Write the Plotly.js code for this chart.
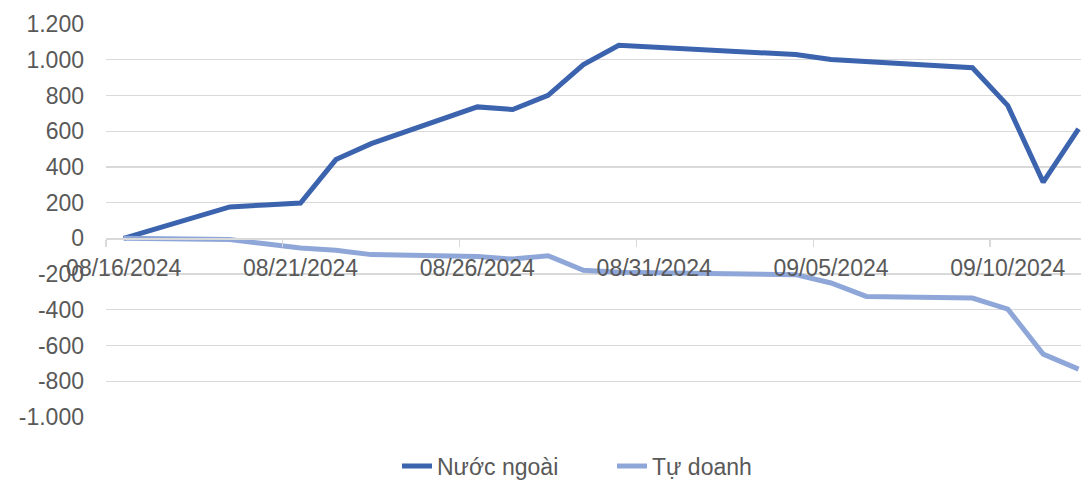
<!DOCTYPE html>
<html>
<head>
<meta charset="utf-8">
<script src="https://cdn.plot.ly/plotly-3.0.1.min.js"></script>
<style>html,body{margin:0;padding:0;background:#fff;}#chart{width:1081px;height:480px;}</style>
</head>
<body>
<div id="chart"></div>
<script>
const dates = ['2024-08-16','2024-08-19','2024-08-20','2024-08-21','2024-08-22','2024-08-23',
  '2024-08-26','2024-08-27','2024-08-28','2024-08-29','2024-08-30',
  '2024-09-04','2024-09-05','2024-09-06','2024-09-09','2024-09-10','2024-09-11','2024-09-12'];
const nuocNgoai = [0,176,187,198,441,530,736,721,801,973,1081,1029,1001,990,955,743,315,613];
const tuDoanh = [0,-7,-30,-54,-67,-91,-101,-116,-97,-179,-190,-203,-250,-325,-334,-396,-648,-732];
const seriesNames = ['Nước ngoài','Tự doanh'];
const xTickVals = ['2024-08-16','2024-08-21','2024-08-26','2024-08-31','2024-09-05','2024-09-10'];
const yTickVals = [-1000,-800,-600,-400,-200,0,200,400,600,800,1000,1200];
const yTickText = ['-1.000','-800','-600','-400','-200','0','200','400','600','800','1.000','1.200'];

const font = {family:'"Liberation Sans", Arial, sans-serif', size:23, color:'#595959'};
const grid = '#D9D9D9';

const traces = [
  {x:dates, y:nuocNgoai, name:seriesNames[0], type:'scatter', mode:'lines',
   line:{color:'#3B63AE', width:5}},
  {x:dates, y:tuDoanh, name:seriesNames[1], type:'scatter', mode:'lines',
   line:{color:'#8FA7D8', width:5}}
];

const layout = {
  width:1081, height:480,
  margin:{l:106, r:0, t:24, b:63, autoexpand:false},
  paper_bgcolor:'#fff', plot_bgcolor:'#fff',
  font:font,
  showlegend:true,
  legend:{orientation:'h', xref:'container', yref:'container',
          x:397/1081, xanchor:'left', y:(480-466)/480, yanchor:'middle',
          entrywidth:170, entrywidthmode:'pixels',
          font:font, bgcolor:'rgba(0,0,0,0)'},
  xaxis:{type:'date', range:['2024-08-15 12:00','2024-09-12 01:40'],
         tickmode:'array', tickvals:xTickVals, tickformat:'%m/%d/%Y',
         ticks:'', anchor:'free', position:1000/2200,
         showline:true, linecolor:grid, linewidth:1.3,
         showgrid:false, zeroline:false, tickfont:font, ticklabelstandoff:9,
         minor:{ticks:'outside', tick0:'2024-08-15 12:00', dtick:432000000,
                ticklen:7, tickwidth:1.3, tickcolor:grid, showgrid:false}},
  yaxis:{range:[-1000,1200], tickmode:'array', tickvals:yTickVals, ticktext:yTickText,
         showgrid:true, gridcolor:grid, gridwidth:1.3, zeroline:false, showline:false,
         ticks:'', tickfont:font, ticklabelstandoff:21}
};

Plotly.newPlot('chart', traces, layout, {staticPlot:true, displayModeBar:false});
</script>
</body>
</html>
